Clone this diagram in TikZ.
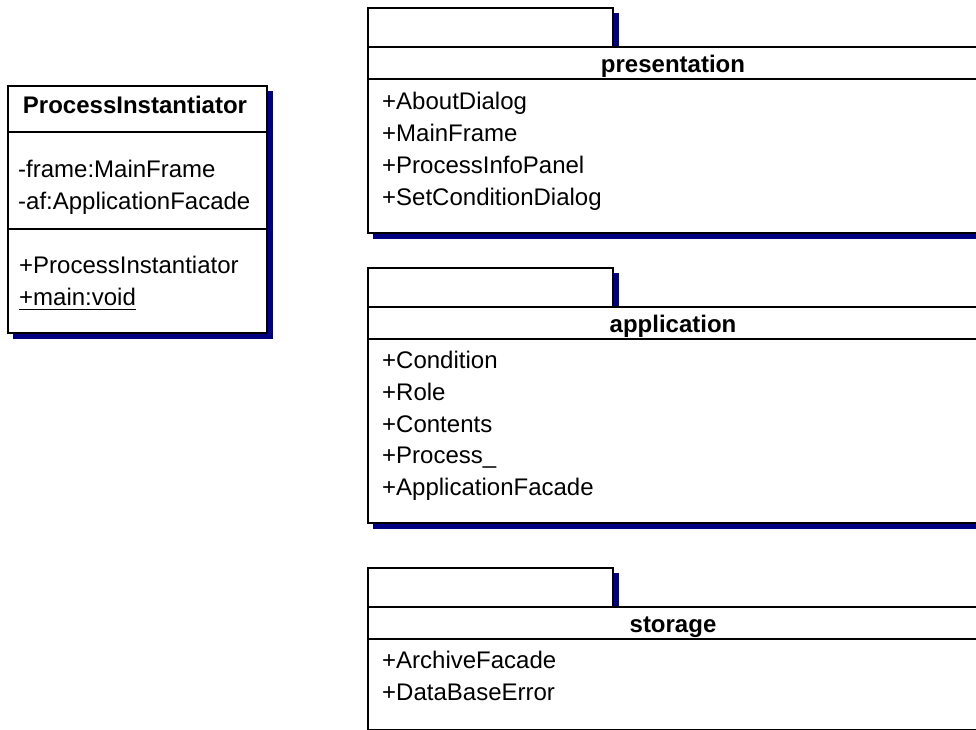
\documentclass[tikz,border=0pt]{standalone}
\usepackage{fontspec}
\setmainfont{Liberation Sans}
\definecolor{shadownavy}{RGB}{0,0,128}

% Package frame: #1 = top of the body (below the tab), #2 = bottom of the body
\newcommand{\pkgframe}[2]{%
  \fill[shade] (613,#1-34) rectangle (618.5,#1);
  \fill[shade] (373,#1) rectangle (990,#2+5.5);
  \draw[frame] (368,#1-39) rectangle (613,#1);
  \draw[frame] (368,#1) rectangle (978,#2);
  \draw[rule] (368,#1+32) -- (978,#1+32);
}

\begin{document}
\begin{tikzpicture}[x=1pt,y=-1pt,
  frame/.style={draw=black, line width=1.6pt, fill=white},
  shade/.style={fill=shadownavy, draw=none},
  rule/.style={draw=black, line width=1.6pt},
  member/.style={anchor=base west, inner sep=0pt, font=\fontsize{24}{28}\selectfont},
  boldname/.style={anchor=base, inner sep=0pt, font=\fontsize{24}{28}\selectfont\bfseries}]

\useasboundingbox (0,0) rectangle (976,729);
\clip (0,0) rectangle (976,729);

% ---- class ProcessInstantiator ----
\fill[shade] (13,91) rectangle (272.5,338.5);
\draw[frame] (8,86) rectangle (267,333);
\draw[rule] (8,132) -- (267,132);
\draw[rule] (8,229) -- (267,229);
\node[boldname] (cname) at (135,113) {ProcessInstantiator};
\node[member] (attrA) at (18,177) {-frame:MainFrame};
\node[member] (attrB) at (18,209) {-af:ApplicationFacade};
\node[member] (opA) at (19,273) {+ProcessInstantiator};
\node[member] (opB) at (19,305) {+main:void};
\draw[line width=1.5pt] ([yshift=-4.5pt]opB.base west) -- ([yshift=-4.5pt]opB.base east);

% ---- package presentation ----
\pkgframe{47}{233}
\node[boldname] (presentation) at (673,72) {presentation};
\node[member] (p1) at (382,109) {+AboutDialog};
\node[member] (p2) at (382,141) {+MainFrame};
\node[member] (p3) at (382,173) {+ProcessInfoPanel};
\node[member] (p4) at (382,205) {+SetConditionDialog};

% ---- package application ----
\pkgframe{307}{523}
\node[boldname] (application) at (673,332) {application};
\node[member] (a1) at (382,368) {+Condition};
\node[member] (a2) at (382,400) {+Role};
\node[member] (a3) at (382,432) {+Contents};
\node[member] (a4) at (382,463.5) {+Process\_};
\node[member] (a5) at (382,495) {+ApplicationFacade};

% ---- package storage ----
\pkgframe{607}{729.5}
\node[boldname] (storage) at (673,632) {storage};
\node[member] (s1) at (382,668) {+ArchiveFacade};
\node[member] (s2) at (382,700) {+DataBaseError};
\end{tikzpicture}
\end{document}
